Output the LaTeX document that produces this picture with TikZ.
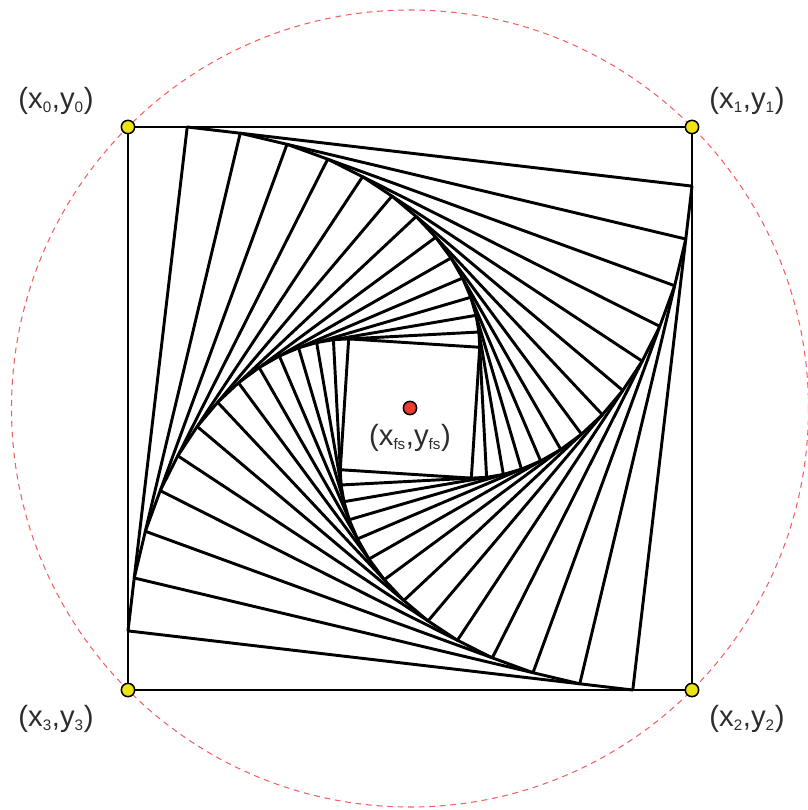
\documentclass[tikz,border=0pt]{standalone}
\usepackage{fontspec}
\setmainfont{Liberation Sans}
\usetikzlibrary{calc}

\definecolor{dotyellow}{RGB}{236,228,20}
\definecolor{dotred}{RGB}{238,58,48}
\definecolor{circred}{RGB}{244,96,96}
\definecolor{labelgray}{RGB}{45,45,45}

\newcommand{\sbs}[1]{\textsubscript{\fontsize{13}{13}\selectfont #1}}

\begin{document}
\begin{tikzpicture}[x=0.03cm, y=-0.03cm, every node/.style={font=\fontsize{25}{28}\selectfont, text=labelgray},
	sqline/.style={line width=2.5pt, line join=round},
	cornerdot/.style={circle, draw, line width=1.3pt, fill=dotyellow, minimum size=4mm, inner sep=0pt},
	fixdot/.style={circle, draw, line width=1.3pt, fill=dotred, minimum size=4mm, inner sep=0pt}]
	\useasboundingbox (0,0) rectangle (807,810);
	\draw[circred, line width=0.9pt, dash pattern=on 5pt off 4pt] (410,408.5) circle (398.5);
	% outer square
	\coordinate (s0-a) at (128,127);
	\coordinate (s0-b) at (692,127);
	\coordinate (s0-c) at (692,690);
	\coordinate (s0-d) at (128,690);
	\draw[sqline] (s0-a) -- (s0-b) -- (s0-c) -- (s0-d) -- cycle;
	\def\ratio{0.105}
	\foreach \i [remember=\i as \j (initially 0)] in {1,...,14} {
		\coordinate (s\i-a) at ($(s\j-a)!\ratio!(s\j-b)$);
		\coordinate (s\i-b) at ($(s\j-b)!\ratio!(s\j-c)$);
		\coordinate (s\i-c) at ($(s\j-c)!\ratio!(s\j-d)$);
		\coordinate (s\i-d) at ($(s\j-d)!\ratio!(s\j-a)$);
		\draw[sqline] (s\i-a) -- (s\i-b) -- (s\i-c) -- (s\i-d) -- cycle;
	}
	\foreach \k/\n in {a/0, b/1, c/2, d/3} {\node[cornerdot] (p\n) at (s0-\k) {};}
	\node (l0) at (56,101) {(x\sbs{0},y\sbs{0})};
	\node (l1) at (747,101) {(x\sbs{1},y\sbs{1})};
	\node (l2) at (747,719) {(x\sbs{2},y\sbs{2})};
	\node (l3) at (56,719) {(x\sbs{3},y\sbs{3})};
	\node[fixdot] (fs) at (410,408) {};
	\node (lfs) at (410,438) {(x\sbs{fs},y\sbs{fs})};
\end{tikzpicture}
\end{document}
